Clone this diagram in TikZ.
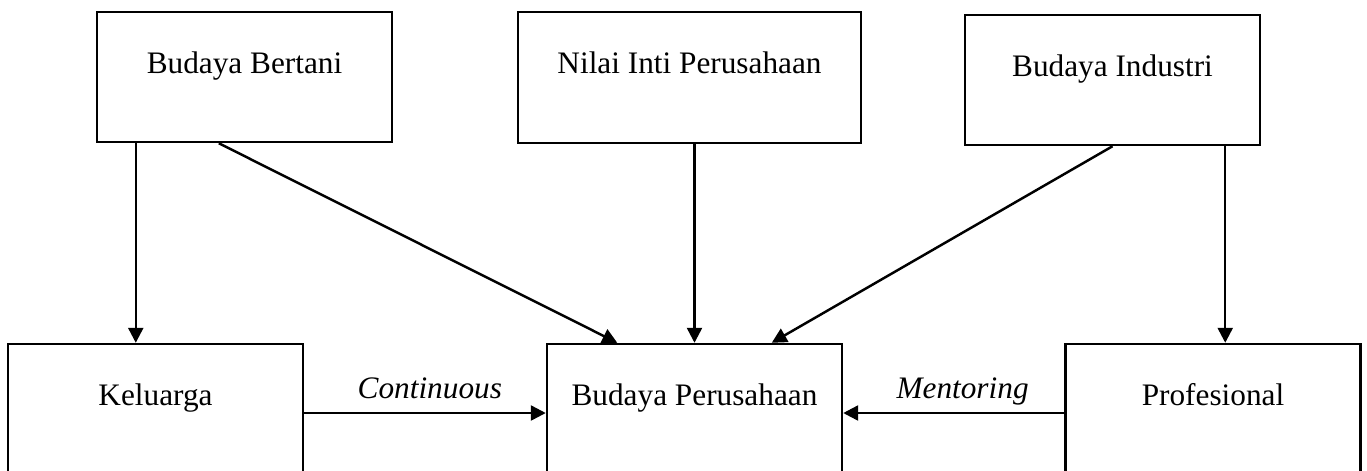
\documentclass[tikz,border=0pt]{standalone}
\usepackage{fontspec}
\setmainfont{Liberation Serif}
\usetikzlibrary{arrows.meta}
\newcommand{\BoxFont}{\fontsize{17.8pt}{21pt}\selectfont}

\begin{document}
\begin{tikzpicture}[
    box/.style = {draw, line width = 1.4pt, minimum width = 5.9cm, minimum height = 2.6cm, inner sep = 0pt, text height = 0.44cm, text depth = 0.6cm, font = \BoxFont},
    lowbox/.style = {box, minimum height = 2.56cm, text depth = 0.56cm},
    arr/.style = {line width = 1.4pt, -{Triangle[length = 0.3cm, width = 0.3cm]}},
    lbl/.style = {font = \BoxFont\itshape, anchor = base, yshift = 0.3cm, inner sep = 0pt},
    ]
    \useasboundingbox (0,0) rectangle (27.34,-9.4);
    \node[box] (bertani) at (4.89, -1.54) {Budaya Bertani};
    \node[box, minimum width = 6.86cm, minimum height = 2.62cm] (nilai) at (13.79, -1.55) {Nilai Inti Perusahaan};
    \node[box] (industri) at (22.25, -1.6) {Budaya Industri};
    \node[lowbox] (keluarga) at (3.11, -8.16) {Keluarga};
    \node[lowbox] (perusahaan) at (13.89, -8.16) {Budaya Perusahaan};
    \node[lowbox] (profesional) at (24.26, -8.16) {Profesional};

    \draw[arr] ([xshift = 0.8cm]bertani.south west) -- ([xshift = 0.8cm]bertani.south west |- keluarga.north);
    \draw[arr] ([xshift = 2.46cm]bertani.south west) -- ([xshift = 1.43cm]perusahaan.north west);
    \draw[arr] (perusahaan.north |- nilai.south) -- (perusahaan.north);
    \draw[arr] (industri.south) -- ([xshift = -1.43cm]perusahaan.north east);
    \draw[arr] ([xshift = -0.72cm]industri.south east) -- ([xshift = -0.72cm]industri.south east |- profesional.north);
    \draw[arr] ([yshift = -0.1cm]keluarga.east) -- node[lbl, pos = 0.52] {Continuous} ([yshift = -0.1cm]perusahaan.west);
    \draw[arr] ([yshift = -0.1cm]profesional.west) -- node[lbl, pos = 0.46] {Mentoring} ([yshift = -0.1cm]perusahaan.east);
\end{tikzpicture}
\end{document}
